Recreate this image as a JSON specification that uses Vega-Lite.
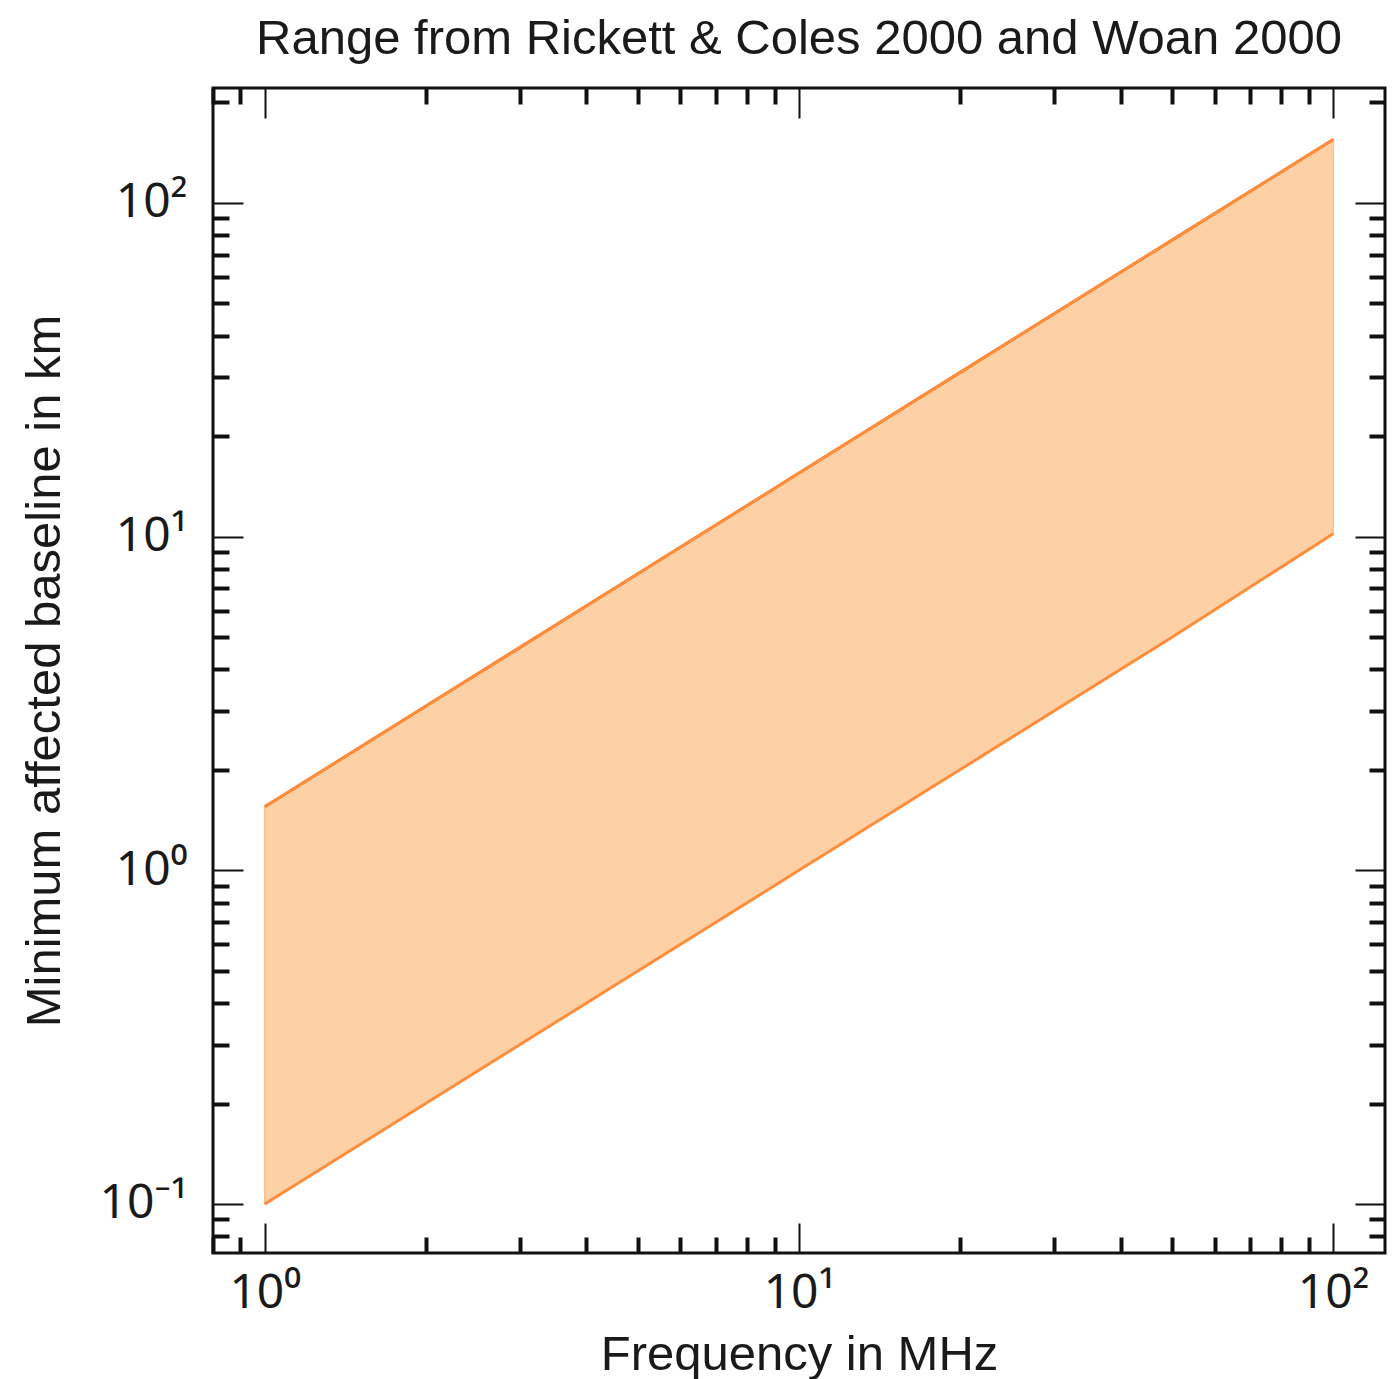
{
  "$schema": "https://vega.github.io/schema/vega-lite/v6.json",
  "width": 1172,
  "height": 1165,
  "autosize": "none",
  "padding": {"left": 213, "top": 88, "right": 7, "bottom": 126},
  "background": "white",
  "config": {
    "view": {"stroke": "#111111", "strokeWidth": 3},
    "font": "Liberation Sans",
    "axis": {"grid": false, "domain": false, "labelFont": "Noto Sans", "titleFont": "Liberation Sans", "labelColor": "#1a1a1a", "titleColor": "#1a1a1a", "titleFontWeight": "normal", "labelFontSize": 48, "titleFontSize": 49, "tickColor": "#111111", "labelFlush": false, "labelOverlap": false}
  },
  "title": {"text": "Range from Rickett & Coles 2000 and Woan 2000", "fontSize": 49, "fontWeight": "normal", "font": "Liberation Sans", "color": "#1a1a1a", "anchor": "middle", "offset": 22},
  "data": {"values": [
    {"f": 1, "lo": 0.1, "hi": 1.55},
    {"f": 2, "lo": 0.2, "hi": 3.1},
    {"f": 5, "lo": 0.5, "hi": 7.75},
    {"f": 10, "lo": 1.0, "hi": 15.5},
    {"f": 20, "lo": 2.0, "hi": 31},
    {"f": 50, "lo": 5.0, "hi": 77.5},
    {"f": 100, "lo": 10.2, "hi": 155}
  ]},
  "resolve": {"axis": {"x": "independent", "y": "independent"}},
  "layer": [
    {
      "mark": {"type": "area", "fill": "#fdd0a6", "stroke": "#fdbf8a", "strokeWidth": 1.5},
      "encoding": {
        "x": {"field": "f", "type": "quantitative", "scale": {"type": "log", "domain": [0.8, 125], "nice": false},
          "axis": {"orient": "bottom", "title": "Frequency in MHz", "values": [1, 10, 100],
            "labelExpr": "datum.value == 1 ? '10⁰' : datum.value == 10 ? '10¹' : datum.value == 100 ? '10²' : ''",
            "tickSize": -30, "tickWidth": 2, "labelPadding": 46, "titlePadding": 13}},
        "y": {"field": "lo", "type": "quantitative", "scale": {"type": "log", "domain": [0.0713, 221], "nice": false},
          "axis": {"orient": "left", "title": "Minimum affected baseline in km", "values": [0.1, 1, 10, 100],
            "labelExpr": "datum.value == 0.1 ? '10⁻¹' : datum.value == 1 ? '10⁰' : datum.value == 10 ? '10¹' : datum.value == 100 ? '10²' : ''",
            "tickSize": -30, "tickWidth": 2, "labelPadding": 56, "titlePadding": 30}},
        "y2": {"field": "hi"}
      }
    },
    {
      "mark": {"type": "line", "color": "#fd8d3c", "strokeWidth": 3},
      "encoding": {
        "x": {"field": "f", "type": "quantitative", "scale": {"type": "log", "domain": [0.8, 125], "nice": false},
          "axis": {"orient": "top", "title": null, "labels": false, "values": [1, 10, 100], "tickSize": -30, "tickWidth": 2}},
        "y": {"field": "hi", "type": "quantitative", "scale": {"type": "log", "domain": [0.0713, 221], "nice": false},
          "axis": {"orient": "right", "title": null, "labels": false, "values": [0.1, 1, 10, 100], "tickSize": -30, "tickWidth": 2}}
      }
    },
    {
      "mark": {"type": "line", "color": "#fd8d3c", "strokeWidth": 3},
      "encoding": {
        "x": {"field": "f", "type": "quantitative", "scale": {"type": "log", "domain": [0.8, 125], "nice": false},
          "axis": {"orient": "bottom", "title": null, "labels": false, "values": [0.8,0.9,2,3,4,5,6,7,8,9,20,30,40,50,60,70,80,90], "tickSize": -16, "tickWidth": 4}},
        "y": {"field": "lo", "type": "quantitative", "scale": {"type": "log", "domain": [0.0713, 221], "nice": false},
          "axis": {"orient": "left", "title": null, "labels": false, "values": [0.08,0.09,0.2,0.3,0.4,0.5,0.6,0.7,0.8,0.9,2,3,4,5,6,7,8,9,20,30,40,50,60,70,80,90,200], "tickSize": -16, "tickWidth": 4}}
      }
    },
    {
      "mark": {"type": "line", "color": "#fd8d3c", "strokeWidth": 3},
      "encoding": {
        "x": {"field": "f", "type": "quantitative", "scale": {"type": "log", "domain": [0.8, 125], "nice": false},
          "axis": {"orient": "top", "title": null, "labels": false, "values": [0.8,0.9,2,3,4,5,6,7,8,9,20,30,40,50,60,70,80,90], "tickSize": -16, "tickWidth": 4}},
        "y": {"field": "hi", "type": "quantitative", "scale": {"type": "log", "domain": [0.0713, 221], "nice": false},
          "axis": {"orient": "right", "title": null, "labels": false, "values": [0.08,0.09,0.2,0.3,0.4,0.5,0.6,0.7,0.8,0.9,2,3,4,5,6,7,8,9,20,30,40,50,60,70,80,90,200], "tickSize": -16, "tickWidth": 4}}
      }
    }
  ]
}
